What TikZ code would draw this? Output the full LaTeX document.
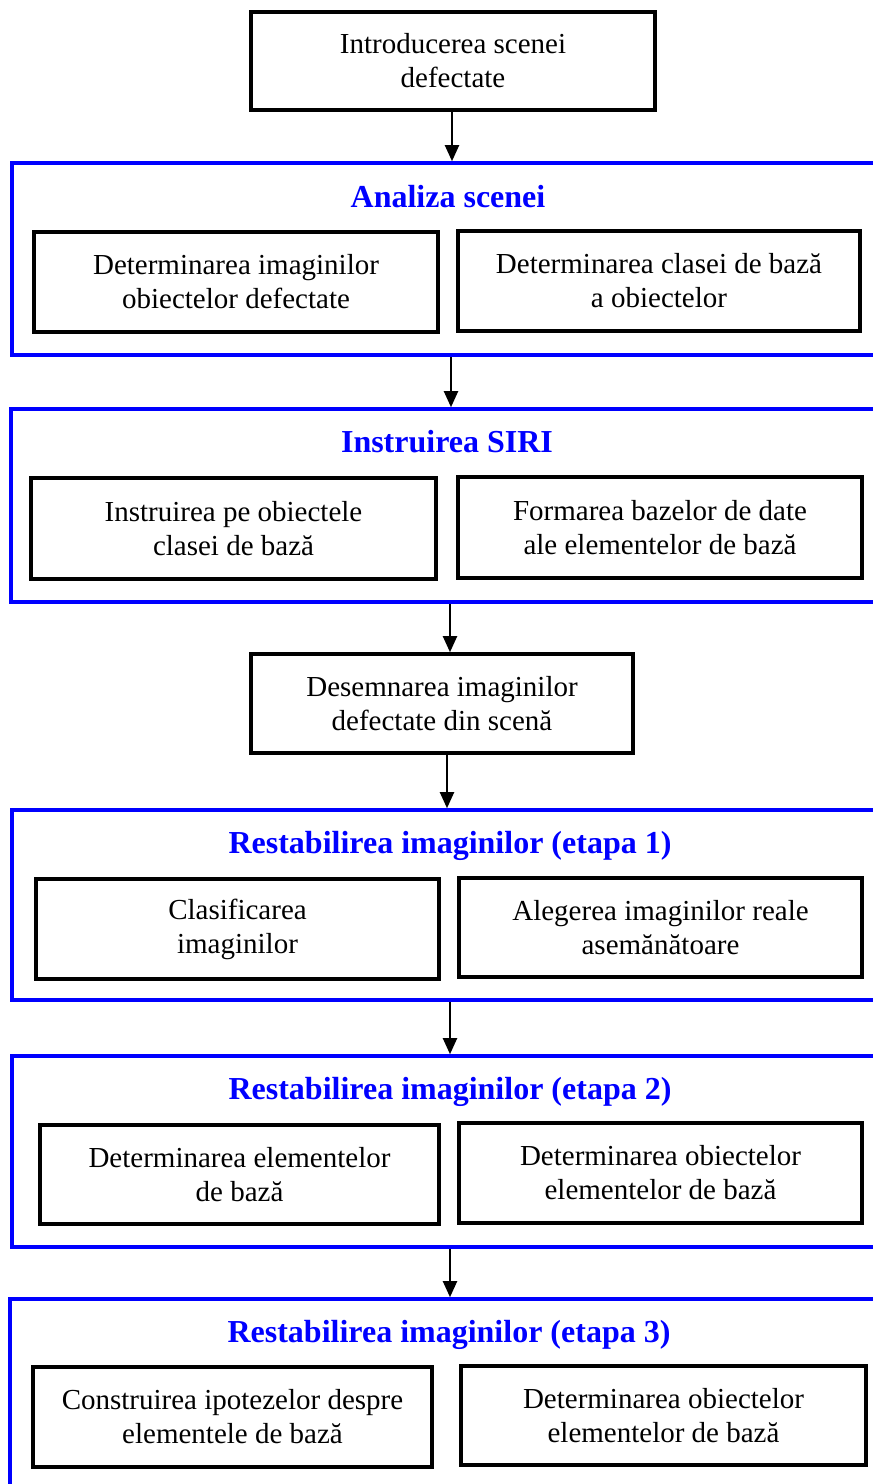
\documentclass[tikz,border=0pt]{standalone}
\usepackage{fontspec}
\setmainfont{Liberation Serif}
\usetikzlibrary{arrows.meta}
\definecolor{framblue}{RGB}{0,0,255}
\begin{document}
\begin{tikzpicture}[x=1pt,y=-1pt,
  stepbox/.style={draw=black,line width=3.6pt,align=center,inner sep=0pt,
    font=\fontsize{29}{34}\selectfont},
  framebox/.style={draw=framblue,line width=3.6pt,inner sep=0pt},
  titletext/.style={text=framblue,font=\fontsize{32}{36}\selectfont\bfseries,inner sep=0pt,anchor=base},
  flow/.style={line width=2pt,-{Triangle[length=16pt,width=14pt]}}]
\useasboundingbox (0,0) rectangle (873,1484);
\clip (0,0) rectangle (873,1484);
% boxes given by corners
\newcommand{\mybox}[6]{\node[stepbox,minimum width=#4-#2,minimum height=#5-#3] (#1) at ({(#2+#4)/2},{(#3+#5)/2}) {#6};}
\newcommand{\myframe}[4]{\node[framebox,minimum width=900-#2,minimum height=#4-#3] (#1) at ({(#2+900)/2},{(#3+#4)/2}) {};}

\mybox{intro}{251}{12}{655}{110}{Introducerea scenei\\defectate}

\myframe{f1}{12}{163}{355}
\node[titletext] (t1) at (448,207) {Analiza scenei};
\mybox{a1}{34}{232}{438}{332}{Determinarea imaginilor\\obiectelor defectate}
\mybox{a2}{458}{231}{860}{331}{Determinarea clasei de bază\\a obiectelor}

\myframe{f2}{11}{409}{602}
\node[titletext] (t2) at (447,452) {Instruirea SIRI};
\mybox{b1}{31}{478}{436}{579}{Instruirea pe obiectele\\clasei de bază}
\mybox{b2}{458}{477}{862}{578}{Formarea bazelor de date\\ale elementelor de bază}

\mybox{des}{251}{654}{633}{753}{Desemnarea imaginilor\\defectate din scenă}

\myframe{f3}{12}{810}{1000}
\node[titletext] (t3) at (450,853) {Restabilirea imaginilor (etapa 1)};
\mybox{c1}{36}{879}{439}{979}{Clasificarea\\imaginilor}
\mybox{c2}{459}{878}{862}{977}{Alegerea imaginilor reale\\asemănătoare}

\myframe{f4}{12}{1056}{1247}
\node[titletext] (t4) at (450,1099) {Restabilirea imaginilor (etapa 2)};
\mybox{e1}{40}{1125}{439}{1224}{Determinarea elementelor\\de bază}
\mybox{e2}{459}{1123}{862}{1223}{Determinarea obiectelor\\elementelor de bază}

\myframe{f5}{10}{1299}{1520}
\node[titletext] (t5) at (449,1342) {Restabilirea imaginilor (etapa 3)};
\mybox{g1}{33}{1367}{432}{1467}{Construirea ipotezelor despre\\elementele de bază}
\mybox{g2}{461}{1366}{866}{1465}{Determinarea obiectelor\\elementelor de bază}

\coordinate (p1) at (452,0);
\coordinate (p2) at (451,0);
\coordinate (p3) at (450,0);
\coordinate (p4) at (447,0);
\coordinate (p5) at (450,0);
\coordinate (p6) at (450,0);
\draw[flow] (p1 |- intro.south) -- (p1 |- f1.north);
\draw[flow] (p2 |- f1.south) -- (p2 |- f2.north);
\draw[flow] (p3 |- f2.south) -- (p3 |- des.north);
\draw[flow] (p4 |- des.south) -- (p4 |- f3.north);
\draw[flow] (p5 |- f3.south) -- (p5 |- f4.north);
\draw[flow] (p6 |- f4.south) -- (p6 |- f5.north);
\end{tikzpicture}
\end{document}
